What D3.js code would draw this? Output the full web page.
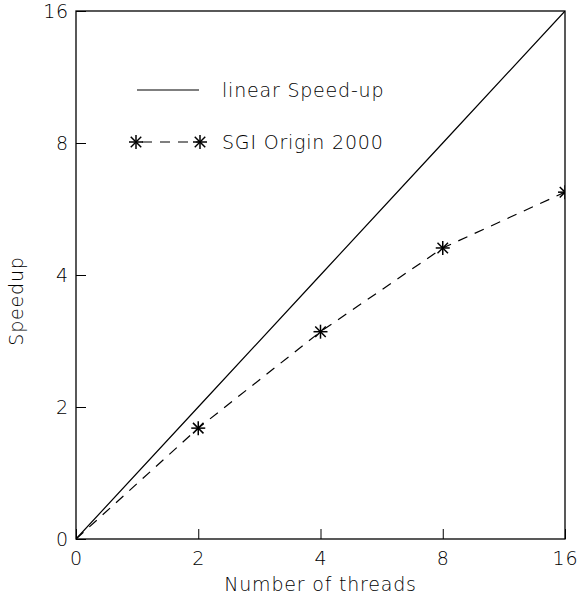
<!DOCTYPE html>
<html>
<head>
<meta charset="utf-8">
<script src="https://cdn.jsdelivr.net/npm/d3@7"></script>
<style>
  body { margin: 0; background: #fff; }
  text { font-family: "DejaVu Sans", sans-serif; font-weight: 200; letter-spacing: 0.8px; fill: #000; }
</style>
</head>
<body>
<svg id="chart" width="582" height="599"></svg>
<script>
// data
var threads = [1, 2, 4, 8, 16];
var linearSpeedup = [1, 2, 4, 8, 16];
var sgiThreads = [1, 2, 4, 8, 16];
var sgiSpeedup = [1, 1.79, 2.97, 4.61, 6.18];
var tickValues = [1, 2, 4, 8, 16];
var tickLabels = ["0", "2", "4", "8", "16"];

const margin = {top: 11, right: 17, bottom: 60, left: 76};
var width = 582 - margin.left - margin.right;
var height = 599 - margin.top - margin.bottom;

var svg = d3.select('#chart');
var chart = svg.append('g')
  .attr('transform', 'translate(' + margin.left + ',' + margin.top + ')');

var x = d3.scaleLog().base(2).domain([1, 16]).range([0, width]);
var y = d3.scaleLog().base(2).domain([1, 16]).range([height, 0]);

chart.append('defs').append('clipPath').attr('id', 'clip')
  .append('rect').attr('width', width).attr('height', height);

// frame
chart.append('rect')
  .attr('width', width).attr('height', height)
  .attr('fill', 'none').attr('stroke', '#000').attr('stroke-width', 1.3);

var fmt = (d) => tickLabels[tickValues.indexOf(d)];

var xAxis = chart.append('g')
  .attr('transform', 'translate(0,' + height + ')')
  .call(d3.axisBottom(x).tickValues(tickValues).tickFormat(fmt).tickSize(-10).tickPadding(13));
var yAxis = chart.append('g')
  .call(d3.axisLeft(y).tickValues(tickValues).tickFormat(fmt).tickSize(-10).tickPadding(7));

[xAxis, yAxis].forEach(function(a) {
  a.select('.domain').remove();
  a.selectAll('line').attr('stroke', '#000');
  a.selectAll('text').style('font-size', '19px').style('font-family', '"DejaVu Sans", sans-serif').attr('fill', '#000');
});
yAxis.selectAll('text').attr('dy', '0.36em');

chart.append('text')
  .attr('x', width / 2).attr('y', height + 52)
  .attr('text-anchor', 'middle')
  .style('font-size', '19px')
  .text('Number of threads');

chart.append('text')
  .attr('transform', 'translate(' + (-53) + ',' + (y(4) + 26) + ') rotate(-90)')
  .attr('text-anchor', 'middle')
  .style('font-size', '19px')
  .text('Speedup');

var plot = chart.append('g').attr('clip-path', 'url(#clip)');

var line = d3.line().x((d) => x(d[0])).y((d) => y(d[1]));

plot.append('path')
  .datum(d3.zip(threads, linearSpeedup))
  .attr('d', line)
  .attr('fill', 'none').attr('stroke', '#000').attr('stroke-width', 1.2);

plot.append('path')
  .datum(d3.zip(sgiThreads, sgiSpeedup))
  .attr('d', line)
  .attr('fill', 'none').attr('stroke', '#000').attr('stroke-width', 1.2)
  .attr('stroke-dasharray', '10,8');

// asterisk marker
function star(g, cx, cy) {
  var r = 7;
  var s = g.append('g').attr('transform', 'translate(' + cx + ',' + cy + ')')
    .attr('stroke', '#000').attr('stroke-width', 1.5);
  s.append('line').attr('x1', -r).attr('x2', r).attr('y1', 0).attr('y2', 0);
  s.append('line').attr('x1', 0).attr('x2', 0).attr('y1', -r).attr('y2', r);
  s.append('line').attr('x1', -r * 0.75).attr('x2', r * 0.75).attr('y1', -r * 0.75).attr('y2', r * 0.75);
  s.append('line').attr('x1', -r * 0.75).attr('x2', r * 0.75).attr('y1', r * 0.75).attr('y2', -r * 0.75);
}

sgiThreads.forEach(function(t, i) {
  if (t > 1) star(plot, x(t), y(sgiSpeedup[i]));
});

// legend
var lg = svg.append('g');
lg.append('line').attr('x1', 137).attr('x2', 199).attr('y1', 90).attr('y2', 90)
  .attr('stroke', '#000').attr('stroke-width', 1.2);
lg.append('text').attr('x', 222).attr('y', 97).style('font-size', '19px').text('linear Speed-up');
lg.append('line').attr('x1', 136).attr('x2', 200).attr('y1', 142).attr('y2', 142)
  .attr('stroke', '#000').attr('stroke-width', 1.2).attr('stroke-dasharray', '10,8').attr('stroke-dashoffset', -6);
star(lg, 136, 142);
star(lg, 200, 142);
lg.append('text').attr('x', 222).attr('y', 149).style('font-size', '19px').text('SGI Origin 2000');
</script>
</body>
</html>
